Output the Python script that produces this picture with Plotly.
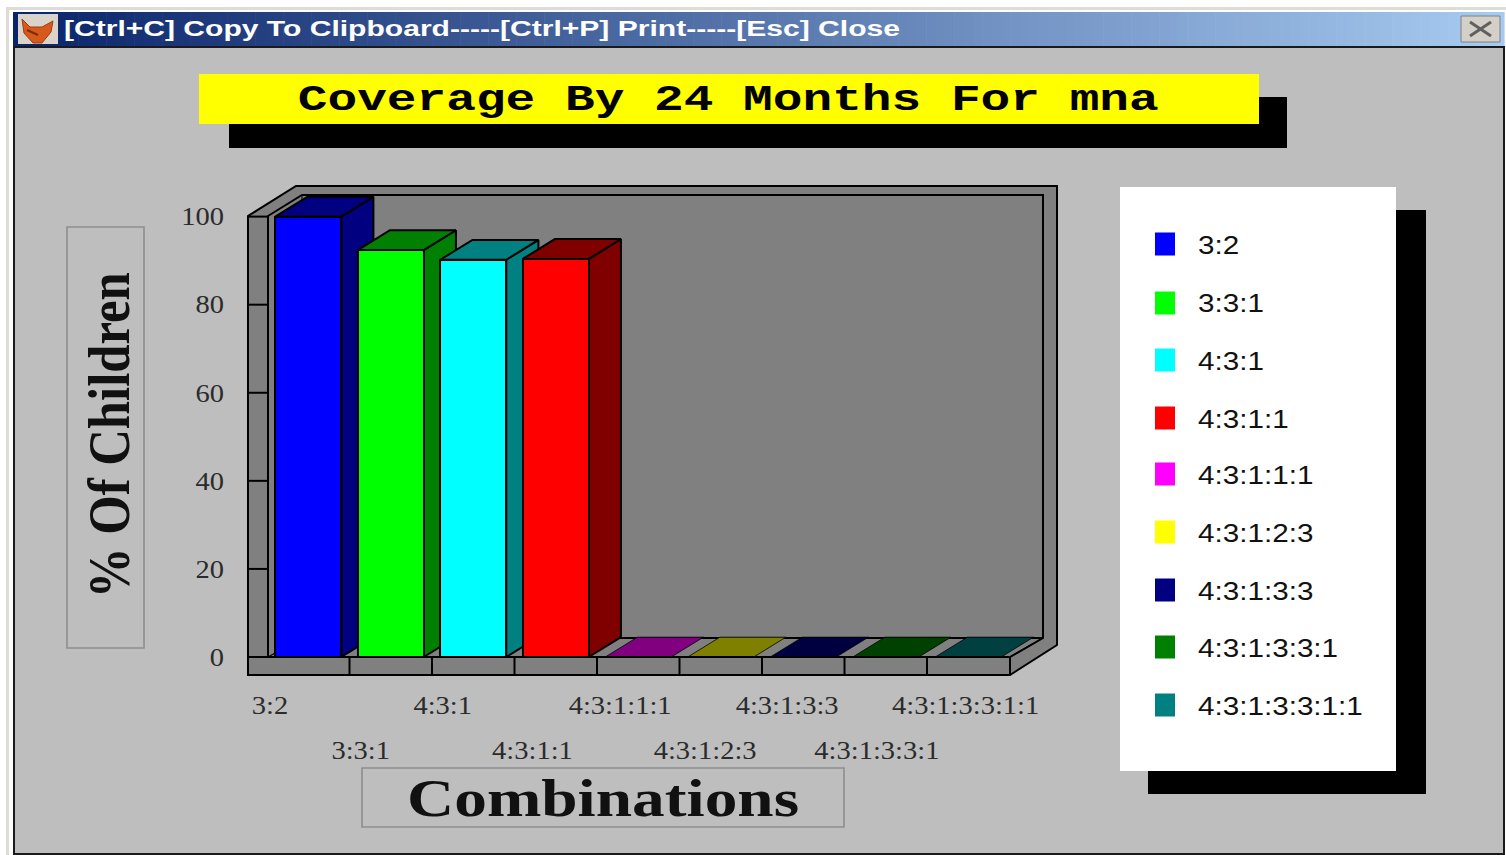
import json
import plotly.graph_objects as go

W, H = 1506, 855

categories = ["3:2", "3:3:1", "4:3:1", "4:3:1:1", "4:3:1:1:1", "4:3:1:2:3", "4:3:1:3:3", "4:3:1:3:3:1", "4:3:1:3:3:1:1"]
values = [100, 92.4, 90.2, 90.4, 0, 0, 0, 0, 0]
front_colors = ["#0000FF", "#00FF00", "#00FFFF", "#FF0000", "#FF00FF", "#FFFF00", "#000080", "#008000", "#008080"]
side_colors = ["#000080", "#008000", "#008080", "#800000", "#800080", "#808000", "#000040", "#004000", "#004040"]
y_ticks = [0, 20, 40, 60, 80, 100]

X0, XS = 267.0, 82.5   # pixel of slot 0 edge, pixels per slot
Y0, YS = 657.0, 4.404  # pixel of value 0, pixels per value unit
BAR_W = 0.8
DX, DY = 0.39, 4.5     # depth of the 3D look in data units
GRAY = "#808080"
BG = "#BEBEBE"
LW = 2.0

def px(x): return x / W
def py(y): return 1 - y / H
def path(pts):
    return "M" + " L".join(f"{px(a):.5f},{py(b):.5f}" for a, b in pts) + " Z"
def poly(pts, fill, line="#000000", lw=LW, layer="below"):
    return dict(type="path", xref="paper", yref="paper", path=path(pts), fillcolor=fill,
                line=dict(color=line, width=lw), layer=layer)
def rect(x0, y0, x1, y1, fill, line=None, lw=0, layer="below"):
    return dict(type="rect", xref="paper", yref="paper", x0=px(x0), x1=px(x1), y0=py(y0), y1=py(y1),
                fillcolor=fill, line=dict(color=line or fill, width=lw), layer=layer)
def seg(x0, y0, x1, y1, color="#000000", lw=LW):
    return dict(type="line", xref="paper", yref="paper", x0=px(x0), x1=px(x1), y0=py(y0), y1=py(y1),
                line=dict(color=color, width=lw), layer="below")

shapes = []
# window chrome
shapes.append(rect(0, 0, W, H, "#FFFFFF"))
shapes.append(rect(6, 7, 1506, 10, "#DEDCD6"))
shapes.append(rect(6, 7, 9, 855, "#DEDCD6"))
shapes.append(rect(14, 47, 1504, 854, BG, line="#1A1A1A", lw=2))
N = 160
c0, c1 = (10, 36, 106), (166, 202, 240)
for i in range(N):
    t = i / (N - 1)
    col = "rgb(%d,%d,%d)" % tuple(round(a + (b - a) * t) for a, b in zip(c0, c1))
    a = 13 + (1504 - 13) * i / N
    b = 13 + (1504 - 13) * (i + 1) / N + 0.6
    shapes.append(rect(a, 12, b, 46, col))
# icon
shapes.append(rect(18, 14, 58, 44, "#D8D4CC"))
shapes.append(poly([(22, 19), (30, 27), (42, 27), (53, 21), (51, 32), (42, 43), (33, 43), (24, 33)], "#D8591C", line="#A03C10", lw=1))
shapes.append(seg(27, 30, 38, 35, "#7A2C08", 2))
# close button
shapes.append(rect(1461, 16, 1500, 42, "#D4D0C8", line="#808080", lw=1))
shapes.append(seg(1470, 22, 1491, 36, "#606060", 3))
shapes.append(seg(1470, 36, 1491, 22, "#606060", 3))
# title block
shapes.append(rect(229, 97, 1287, 148, "#000000"))
shapes.append(rect(199, 74, 1259, 124, "#FFFF00"))
# axis title boxes
shapes.append(rect(67, 227, 144, 648, "rgba(0,0,0,0)", line="#8E8E8E", lw=1.6))
shapes.append(rect(362, 768, 844, 827, "rgba(0,0,0,0)", line="#8E8E8E", lw=1.6))
# legend block
shapes.append(rect(1148, 210, 1426, 794, "#000000"))
shapes.append(rect(1120, 187, 1396, 771, "#FFFFFF"))
# 3D frame: outer shell and inner back wall
shapes.append(poly([(296, 186), (1057, 186), (1057, 645), (1010, 675), (248, 675), (248, 216)], GRAY))
shapes.append(poly([(268, 216), (302, 195), (1043, 195), (1043, 638), (1010, 657), (268, 657)], GRAY))
shapes.append(seg(302, 195, 302, 638, lw=1))
shapes.append(seg(302, 638, 1043, 638))
shapes.append(seg(268, 657, 302, 638, lw=1.2))
shapes.append(seg(1010, 657, 1010, 675))
shapes.append(seg(1010, 657, 1043, 638, lw=1.2))
# floor dividers
for i in range(1, len(categories)):
    x = X0 + XS * i
    shapes.append(seg(x, 657, x, 675))
# y-axis tick marks across the wall's front edge
for v in y_ticks:
    y = Y0 - YS * v
    shapes.append(seg(248, y, 268, y))

fig = go.Figure()
x_pos = [i + 0.5 for i in range(len(categories))]

# side and top faces, computed from the values, on the lower axes pair
for x, v, cat, dark in zip(x_pos, values, categories, side_colors):
    r = x + BAR_W / 2
    l = x - BAR_W / 2
    if v > 0:
        fig.add_trace(go.Scatter(x=[r, r + DX, r + DX, r, r], y=[0, DY, v + DY, v, 0], mode="lines", fill="toself",
                                 fillcolor=dark, line=dict(color="#000000", width=LW), showlegend=False,
                                 name=cat + " side", hoverinfo="skip"))
    fig.add_trace(go.Scatter(x=[l, r, r + DX, l + DX, l], y=[v, v, v + DY, v + DY, v], mode="lines", fill="toself",
                             fillcolor=dark, line=dict(color="#000000", width=LW if v > 0 else 0.8), showlegend=False,
                             name=cat + " top", hoverinfo="skip"))

# front faces, on an overlaying axes pair so they sit above the side faces
fig.add_trace(go.Bar(x=x_pos, y=values, width=BAR_W, xaxis="x2", yaxis="y2",
                     marker=dict(color=front_colors, line=dict(color="#000000", width=LW)),
                     text=categories, textposition="none", showlegend=False, name="Coverage"))

annotations = []
def label(x, y, text, size, family, color="#000000", bold=False, rotate=0):
    annotations.append(dict(x=px(x), y=py(y), xref="paper", yref="paper", text=("<b>%s</b>" % text) if bold else text,
                            showarrow=False, xanchor="center", yanchor="middle", textangle=rotate,
                            font=dict(size=size, family=family, color=color)))

label_x = [270, 360, 442, 532, 620, 705, 787, 877, 965]
label_y = [705, 750, 705, 750, 705, 750, 705, 750, 705]
for x, y, c in zip(label_x, label_y, categories):
    label(x, y, c, 25, "Liberation Serif", "#2B2B2B")

legend_y = [244, 303, 360, 418, 474, 532, 590, 647, 705]
for y, c, col in zip(legend_y, categories, front_colors):
    shapes.append(rect(1155, y - 11.5, 1175, y + 11.5, col))
    annotations.append(dict(x=px(1198), y=py(y + 0.5), xref="paper", yref="paper", text=c, showarrow=False,
                            xanchor="left", yanchor="middle",
                            font=dict(size=26, family="Liberation Sans", color="#111111")))

label(728, 100, "Coverage By 24 Months For mna", 36, "Liberation Mono", bold=True)
label(109, 435, "% Of Children", 60, "Liberation Serif", "#111111", bold=True, rotate=-90)
label(603, 798, "Combinations", 53, "Liberation Serif", "#111111", bold=True)
label(482, 28.5, "[Ctrl+C] Copy To Clipboard-----[Ctrl+P] Print-----[Esc] Close", 22, "Liberation Sans", "#FFFFFF", bold=True)

xr = [-X0 / XS, (W - X0) / XS]
yr = [(Y0 - H) / YS, Y0 / YS]
fig.update_layout(
    width=W, height=H, margin=dict(l=0, r=0, t=0, b=0), paper_bgcolor="#FFFFFF", plot_bgcolor="rgba(0,0,0,0)",
    shapes=shapes, annotations=annotations, showlegend=False, bargap=0,
    xaxis=dict(range=xr, showgrid=False, zeroline=False, showticklabels=False, ticks="", fixedrange=True),
    yaxis=dict(range=yr, showgrid=False, zeroline=False, tickmode="array", tickvals=y_ticks,
               ticktext=[str(v) for v in y_ticks], anchor="free", position=224 / W, ticks="",
               tickfont=dict(size=25, family="Liberation Serif", color="#2B2B2B"), fixedrange=True),
    xaxis2=dict(range=xr, overlaying="x", visible=False, fixedrange=True),
    yaxis2=dict(range=yr, overlaying="y", visible=False, fixedrange=True),
)

stretch = {"Coverage By 24 Months For mna": 861, "% Of Children": 326, "Combinations": 392,
           "[Ctrl+C] Copy To Clipboard-----[Ctrl+P] Print-----[Esc] Close": 836}
post = """
document.documentElement.style.overflow='hidden';
document.body.style.margin='0';
var targets = %s;
document.querySelectorAll('.annotation-text').forEach(function(t){
  var s=t.textContent, w0=t.getComputedTextLength(), w=targets[s]||w0*1.14;
  t.setAttribute('textLength', w); t.setAttribute('lengthAdjust','spacingAndGlyphs');
  if(t.style.fontFamily.indexOf('Sans')>=0 && !targets[s]){
    t.setAttribute('x', parseFloat(t.getAttribute('x')||0)+(w-w0)/2-2);
  }
});
document.querySelectorAll('.ytick text').forEach(function(t){
  t.setAttribute('textLength', t.getComputedTextLength()*1.14); t.setAttribute('lengthAdjust','spacingAndGlyphs');
});
""" % json.dumps(stretch)
fig.write_html("out.html", post_script=post, config={"displayModeBar": False})
